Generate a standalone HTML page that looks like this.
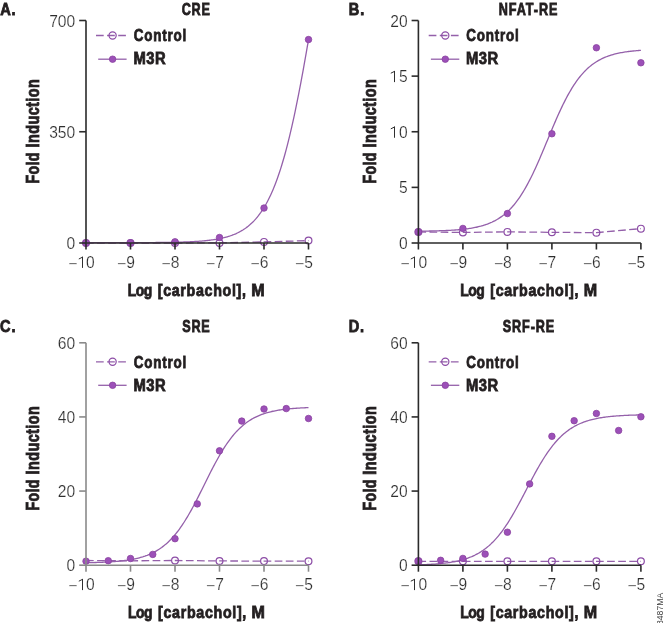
<!DOCTYPE html>
<html><head><meta charset="utf-8"><style>
html,body{margin:0;padding:0;background:#fff;}
svg{display:block;will-change:transform;}
</style></head><body>
<svg width="665" height="623" viewBox="0 0 665 623">
<rect width="665" height="623" fill="#fff"/>
<text transform="translate(0.50 15.00) scale(0.8800 1)" x="-0.41" y="0" font-family="Liberation Sans" font-weight="bold" font-size="16.6" letter-spacing="0.865" fill="#231f20" stroke="#231f20" stroke-width="0.85">A.</text>
<text transform="translate(182.30 15.00) scale(0.7600 1)" x="-0.68" y="0" font-family="Liberation Sans" font-weight="bold" font-size="16.6" letter-spacing="0.904" fill="#231f20" stroke="#231f20" stroke-width="0.85">CRE</text>
<path d="M86.00 242.68 L87.11 242.68 L88.23 242.68 L89.34 242.68 L90.45 242.68 L91.56 242.68 L92.68 242.68 L93.79 242.68 L94.90 242.67 L96.01 242.67 L97.12 242.67 L98.24 242.67 L99.35 242.67 L100.46 242.67 L101.57 242.67 L102.69 242.67 L103.80 242.67 L104.91 242.67 L106.02 242.67 L107.14 242.67 L108.25 242.67 L109.36 242.67 L110.48 242.67 L111.59 242.66 L112.70 242.66 L113.81 242.66 L114.93 242.66 L116.04 242.66 L117.15 242.66 L118.26 242.66 L119.38 242.66 L120.49 242.65 L121.60 242.65 L122.71 242.65 L123.82 242.65 L124.94 242.65 L126.05 242.65 L127.16 242.64 L128.27 242.64 L129.39 242.64 L130.50 242.64 L131.61 242.63 L132.73 242.63 L133.84 242.63 L134.95 242.63 L136.06 242.62 L137.18 242.62 L138.29 242.62 L139.40 242.61 L140.51 242.61 L141.62 242.60 L142.74 242.60 L143.85 242.59 L144.96 242.59 L146.07 242.58 L147.19 242.58 L148.30 242.57 L149.41 242.57 L150.52 242.56 L151.64 242.55 L152.75 242.54 L153.86 242.54 L154.98 242.53 L156.09 242.52 L157.20 242.51 L158.31 242.50 L159.43 242.49 L160.54 242.48 L161.65 242.47 L162.76 242.45 L163.88 242.44 L164.99 242.43 L166.10 242.41 L167.21 242.39 L168.32 242.38 L169.44 242.36 L170.55 242.34 L171.66 242.32 L172.77 242.30 L173.89 242.28 L175.00 242.26 L176.11 242.23 L177.22 242.21 L178.34 242.18 L179.45 242.15 L180.56 242.12 L181.68 242.09 L182.79 242.05 L183.90 242.02 L185.01 241.98 L186.12 241.94 L187.24 241.89 L188.35 241.85 L189.46 241.80 L190.57 241.75 L191.69 241.70 L192.80 241.64 L193.91 241.58 L195.03 241.52 L196.14 241.45 L197.25 241.38 L198.36 241.30 L199.47 241.22 L200.59 241.14 L201.70 241.05 L202.81 240.96 L203.93 240.86 L205.04 240.75 L206.15 240.64 L207.26 240.52 L208.38 240.40 L209.49 240.27 L210.60 240.13 L211.71 239.98 L212.82 239.83 L213.94 239.67 L215.05 239.49 L216.16 239.31 L217.28 239.12 L218.39 238.91 L219.50 238.70 L220.61 238.47 L221.72 238.23 L222.84 237.97 L223.95 237.71 L225.06 237.42 L226.18 237.12 L227.29 236.80 L228.40 236.47 L229.51 236.12 L230.62 235.74 L231.74 235.35 L232.85 234.93 L233.96 234.49 L235.07 234.03 L236.19 233.54 L237.30 233.02 L238.41 232.47 L239.53 231.90 L240.64 231.29 L241.75 230.65 L242.86 229.98 L243.97 229.26 L245.09 228.51 L246.20 227.72 L247.31 226.89 L248.43 226.01 L249.54 225.08 L250.65 224.10 L251.76 223.08 L252.88 221.99 L253.99 220.86 L255.10 219.66 L256.21 218.40 L257.32 217.07 L258.44 215.68 L259.55 214.21 L260.66 212.68 L261.77 211.06 L262.89 209.37 L264.00 207.59 L265.11 205.72 L266.23 203.76 L267.34 201.71 L268.45 199.57 L269.56 197.32 L270.68 194.97 L271.79 192.51 L272.90 189.94 L274.01 187.25 L275.12 184.45 L276.24 181.53 L277.35 178.48 L278.46 175.31 L279.57 172.01 L280.69 168.58 L281.80 165.01 L282.91 161.30 L284.02 157.46 L285.14 153.48 L286.25 149.36 L287.36 145.09 L288.48 140.69 L289.59 136.14 L290.70 131.45 L291.81 126.62 L292.93 121.66 L294.04 116.55 L295.15 111.32 L296.26 105.95 L297.38 100.45 L298.49 94.84 L299.60 89.10 L300.71 83.26 L301.82 77.31 L302.94 71.26 L304.05 65.12 L305.16 58.89 L306.27 52.59 L307.39 46.23 L308.50 39.80" fill="none" stroke="#9460aa" stroke-width="1.3"/>
<path d="M86.00 243.00 L130.50 243.00 L175.00 243.00 L219.50 242.94 L264.00 241.89 L308.50 240.62" fill="none" stroke="#9460aa" stroke-width="1.3" stroke-dasharray="7.7 3.4"/>
<circle cx="86.00" cy="243.00" r="3.4" fill="none" stroke="#8c4ca6" stroke-width="1.2"/>
<circle cx="130.50" cy="243.00" r="3.4" fill="none" stroke="#8c4ca6" stroke-width="1.2"/>
<circle cx="175.00" cy="243.00" r="3.4" fill="none" stroke="#8c4ca6" stroke-width="1.2"/>
<circle cx="219.50" cy="242.94" r="3.4" fill="none" stroke="#8c4ca6" stroke-width="1.2"/>
<circle cx="264.00" cy="241.89" r="3.4" fill="none" stroke="#8c4ca6" stroke-width="1.2"/>
<circle cx="308.50" cy="240.62" r="3.4" fill="none" stroke="#8c4ca6" stroke-width="1.2"/>
<circle cx="86.00" cy="242.90" r="3.25" fill="#9c50b8" stroke="#8a429f" stroke-width="0.8"/>
<circle cx="130.50" cy="242.84" r="3.25" fill="#9c50b8" stroke="#8a429f" stroke-width="0.8"/>
<circle cx="175.00" cy="241.79" r="3.25" fill="#9c50b8" stroke="#8a429f" stroke-width="0.8"/>
<circle cx="219.50" cy="237.50" r="3.25" fill="#9c50b8" stroke="#8a429f" stroke-width="0.8"/>
<circle cx="264.00" cy="208.04" r="3.25" fill="#9c50b8" stroke="#8a429f" stroke-width="0.8"/>
<circle cx="308.50" cy="39.57" r="3.25" fill="#9c50b8" stroke="#8a429f" stroke-width="0.8"/>
<path d="M86.00 20.50V243.00H308.50" fill="none" stroke="#2b2b2b" stroke-width="1.6"/>
<line x1="79.20" y1="243.00" x2="86.00" y2="243.00" stroke="#2b2b2b" stroke-width="1.6"/>
<text x="66.52" y="249.00" font-family="Liberation Sans" font-size="15.6" fill="#2e2e2e" stroke="#fff" stroke-width="0.2">0</text>
<line x1="79.20" y1="131.75" x2="86.00" y2="131.75" stroke="#2b2b2b" stroke-width="1.6"/>
<text x="49.17" y="137.75" font-family="Liberation Sans" font-size="15.6" fill="#2e2e2e" stroke="#fff" stroke-width="0.2">3</text><text x="57.85" y="137.75" font-family="Liberation Sans" font-size="15.6" fill="#2e2e2e" stroke="#fff" stroke-width="0.2">5</text><text x="66.52" y="137.75" font-family="Liberation Sans" font-size="15.6" fill="#2e2e2e" stroke="#fff" stroke-width="0.2">0</text>
<line x1="79.20" y1="20.50" x2="86.00" y2="20.50" stroke="#2b2b2b" stroke-width="1.6"/>
<text x="49.17" y="26.50" font-family="Liberation Sans" font-size="15.6" fill="#2e2e2e" stroke="#fff" stroke-width="0.2">7</text><text x="57.85" y="26.50" font-family="Liberation Sans" font-size="15.6" fill="#2e2e2e" stroke="#fff" stroke-width="0.2">0</text><text x="66.52" y="26.50" font-family="Liberation Sans" font-size="15.6" fill="#2e2e2e" stroke="#fff" stroke-width="0.2">0</text>
<line x1="86.00" y1="243.00" x2="86.00" y2="249.50" stroke="#2b2b2b" stroke-width="1.6"/>
<path d="M82.50 267.90V256.80M78.80 259.00L82.80 257.00" stroke="#2e2e2e" stroke-width="1.0" fill="none"/><text x="86.00" y="267.90" font-family="Liberation Sans" font-size="15.6" fill="#2e2e2e" stroke="#fff" stroke-width="0.2">0</text>
<text x="77.32" y="268.70" font-family="Liberation Sans" font-size="15.6" fill="#2e2e2e" stroke="#fff" stroke-width="0.2" text-anchor="end">&#8722;</text>
<line x1="130.50" y1="243.00" x2="130.50" y2="249.50" stroke="#2b2b2b" stroke-width="1.6"/>
<text x="126.16" y="267.90" font-family="Liberation Sans" font-size="15.6" fill="#2e2e2e" stroke="#fff" stroke-width="0.2">9</text>
<text x="126.16" y="268.70" font-family="Liberation Sans" font-size="15.6" fill="#2e2e2e" stroke="#fff" stroke-width="0.2" text-anchor="end">&#8722;</text>
<line x1="175.00" y1="243.00" x2="175.00" y2="249.50" stroke="#2b2b2b" stroke-width="1.6"/>
<text x="170.66" y="267.90" font-family="Liberation Sans" font-size="15.6" fill="#2e2e2e" stroke="#fff" stroke-width="0.2">8</text>
<text x="170.66" y="268.70" font-family="Liberation Sans" font-size="15.6" fill="#2e2e2e" stroke="#fff" stroke-width="0.2" text-anchor="end">&#8722;</text>
<line x1="219.50" y1="243.00" x2="219.50" y2="249.50" stroke="#2b2b2b" stroke-width="1.6"/>
<text x="215.16" y="267.90" font-family="Liberation Sans" font-size="15.6" fill="#2e2e2e" stroke="#fff" stroke-width="0.2">7</text>
<text x="215.16" y="268.70" font-family="Liberation Sans" font-size="15.6" fill="#2e2e2e" stroke="#fff" stroke-width="0.2" text-anchor="end">&#8722;</text>
<line x1="264.00" y1="243.00" x2="264.00" y2="249.50" stroke="#2b2b2b" stroke-width="1.6"/>
<text x="259.66" y="267.90" font-family="Liberation Sans" font-size="15.6" fill="#2e2e2e" stroke="#fff" stroke-width="0.2">6</text>
<text x="259.66" y="268.70" font-family="Liberation Sans" font-size="15.6" fill="#2e2e2e" stroke="#fff" stroke-width="0.2" text-anchor="end">&#8722;</text>
<line x1="308.50" y1="243.00" x2="308.50" y2="249.50" stroke="#2b2b2b" stroke-width="1.6"/>
<text x="304.16" y="267.90" font-family="Liberation Sans" font-size="15.6" fill="#2e2e2e" stroke="#fff" stroke-width="0.2">5</text>
<text x="304.16" y="268.70" font-family="Liberation Sans" font-size="15.6" fill="#2e2e2e" stroke="#fff" stroke-width="0.2" text-anchor="end">&#8722;</text>
<line x1="96.00" y1="35.50" x2="126.00" y2="35.50" stroke="#9460aa" stroke-width="1.3" stroke-dasharray="7.7 3.4"/>
<circle cx="112.60" cy="35.50" r="3.6" fill="none" stroke="#8c4ca6" stroke-width="1.2"/>
<line x1="98.20" y1="59.20" x2="126.60" y2="59.20" stroke="#9460aa" stroke-width="1.3"/>
<circle cx="112.60" cy="59.20" r="3.25" fill="#9c50b8" stroke="#8a429f" stroke-width="0.8"/>
<text transform="translate(134.40 40.75) scale(0.7800 1)" x="-0.71" y="0" font-family="Liberation Sans" font-weight="bold" font-size="17.2" letter-spacing="1.028" fill="#231f20" stroke="#231f20" stroke-width="0.85">Control</text>
<text transform="translate(134.40 64.20) scale(0.8600 1)" x="-1.15" y="0" font-family="Liberation Sans" font-weight="bold" font-size="17.2" letter-spacing="0.617" fill="#231f20" stroke="#231f20" stroke-width="0.85">M3R</text>
<text transform="translate(128.73 295.80) scale(0.8000 1)" x="-1.16" y="0" font-family="Liberation Sans" font-weight="bold" font-size="17.4" letter-spacing="-0.623" fill="#231f20" stroke="#231f20" stroke-width="0.85">Log</text>
<text transform="translate(158.53 295.80) scale(0.8200 1)" x="-0.98" y="0" font-family="Liberation Sans" font-weight="bold" font-size="17.4" letter-spacing="0.824" fill="#231f20" stroke="#231f20" stroke-width="0.85">[carbachol],</text>
<text transform="translate(252.23 295.80) scale(0.9247 1)" x="-1.16" y="0" font-family="Liberation Sans" font-weight="bold" font-size="17.4" letter-spacing="0.000" fill="#231f20" stroke="#231f20" stroke-width="0.85">M</text>
<text transform="translate(39.00 182.47) rotate(-90) scale(0.8000 1)" x="-1.18" y="0" font-family="Liberation Sans" font-weight="bold" font-size="17.6" letter-spacing="0.461" fill="#231f20" stroke="#231f20" stroke-width="0.85">Fold</text>
<text transform="translate(39.00 146.57) rotate(-90) scale(0.8200 1)" x="-1.18" y="0" font-family="Liberation Sans" font-weight="bold" font-size="17.6" letter-spacing="0.531" fill="#231f20" stroke="#231f20" stroke-width="0.85">Induction</text>
<text transform="translate(349.60 15.00) scale(0.8800 1)" x="-1.11" y="0" font-family="Liberation Sans" font-weight="bold" font-size="16.6" letter-spacing="1.335" fill="#231f20" stroke="#231f20" stroke-width="0.85">B.</text>
<text transform="translate(499.60 15.00) scale(0.7600 1)" x="-1.11" y="0" font-family="Liberation Sans" font-weight="bold" font-size="16.6" letter-spacing="1.223" fill="#231f20" stroke="#231f20" stroke-width="0.85">NFAT-RE</text>
<path d="M418.40 231.17 L419.51 231.15 L420.62 231.14 L421.74 231.13 L422.85 231.11 L423.96 231.10 L425.07 231.08 L426.19 231.07 L427.30 231.05 L428.41 231.03 L429.52 231.01 L430.64 230.99 L431.75 230.96 L432.86 230.94 L433.97 230.91 L435.09 230.89 L436.20 230.86 L437.31 230.83 L438.42 230.79 L439.54 230.76 L440.65 230.72 L441.76 230.69 L442.88 230.64 L443.99 230.60 L445.10 230.56 L446.21 230.51 L447.32 230.45 L448.44 230.40 L449.55 230.34 L450.66 230.28 L451.77 230.21 L452.89 230.15 L454.00 230.07 L455.11 229.99 L456.22 229.91 L457.34 229.83 L458.45 229.73 L459.56 229.63 L460.67 229.53 L461.79 229.42 L462.90 229.30 L464.01 229.18 L465.12 229.05 L466.24 228.91 L467.35 228.77 L468.46 228.61 L469.57 228.45 L470.69 228.27 L471.80 228.09 L472.91 227.89 L474.02 227.69 L475.14 227.47 L476.25 227.24 L477.36 227.00 L478.47 226.74 L479.59 226.46 L480.70 226.18 L481.81 225.87 L482.92 225.55 L484.04 225.21 L485.15 224.85 L486.26 224.47 L487.38 224.07 L488.49 223.64 L489.60 223.20 L490.71 222.72 L491.82 222.23 L492.94 221.70 L494.05 221.15 L495.16 220.57 L496.27 219.95 L497.39 219.31 L498.50 218.63 L499.61 217.91 L500.72 217.16 L501.84 216.37 L502.95 215.54 L504.06 214.67 L505.17 213.75 L506.29 212.79 L507.40 211.79 L508.51 210.73 L509.62 209.63 L510.74 208.48 L511.85 207.28 L512.96 206.02 L514.08 204.71 L515.19 203.34 L516.30 201.91 L517.41 200.43 L518.52 198.89 L519.64 197.29 L520.75 195.63 L521.86 193.91 L522.97 192.12 L524.09 190.28 L525.20 188.38 L526.31 186.41 L527.42 184.39 L528.54 182.31 L529.65 180.17 L530.76 177.97 L531.88 175.73 L532.99 173.42 L534.10 171.07 L535.21 168.67 L536.33 166.23 L537.44 163.75 L538.55 161.22 L539.66 158.67 L540.77 156.08 L541.89 153.47 L543.00 150.83 L544.11 148.17 L545.22 145.51 L546.34 142.83 L547.45 140.15 L548.56 137.46 L549.67 134.79 L550.79 132.12 L551.90 129.46 L553.01 126.83 L554.12 124.22 L555.24 121.63 L556.35 119.07 L557.46 116.55 L558.58 114.07 L559.69 111.63 L560.80 109.23 L561.91 106.89 L563.02 104.59 L564.14 102.34 L565.25 100.15 L566.36 98.01 L567.47 95.93 L568.59 93.91 L569.70 91.95 L570.81 90.05 L571.92 88.21 L573.04 86.43 L574.15 84.71 L575.26 83.05 L576.38 81.46 L577.49 79.92 L578.60 78.44 L579.71 77.02 L580.83 75.65 L581.94 74.34 L583.05 73.09 L584.16 71.88 L585.27 70.73 L586.39 69.64 L587.50 68.59 L588.61 67.58 L589.72 66.63 L590.84 65.71 L591.95 64.84 L593.06 64.01 L594.17 63.23 L595.29 62.48 L596.40 61.76 L597.51 61.08 L598.62 60.44 L599.74 59.83 L600.85 59.25 L601.96 58.69 L603.08 58.17 L604.19 57.67 L605.30 57.20 L606.41 56.76 L607.52 56.34 L608.64 55.94 L609.75 55.56 L610.86 55.20 L611.97 54.86 L613.09 54.54 L614.20 54.23 L615.31 53.94 L616.42 53.67 L617.54 53.41 L618.65 53.17 L619.76 52.94 L620.88 52.72 L621.99 52.52 L623.10 52.32 L624.21 52.14 L625.33 51.97 L626.44 51.80 L627.55 51.65 L628.66 51.50 L629.77 51.36 L630.89 51.23 L632.00 51.11 L633.11 50.99 L634.22 50.88 L635.34 50.78 L636.45 50.68 L637.56 50.59 L638.67 50.50 L639.79 50.42 L640.90 50.35" fill="none" stroke="#9460aa" stroke-width="1.3"/>
<path d="M418.40 231.88 L462.90 232.43 L507.40 231.88 L551.90 232.32 L596.40 232.65 L640.90 228.65" fill="none" stroke="#9460aa" stroke-width="1.3" stroke-dasharray="7.7 3.4"/>
<circle cx="418.40" cy="231.88" r="3.4" fill="none" stroke="#8c4ca6" stroke-width="1.2"/>
<circle cx="462.90" cy="232.43" r="3.4" fill="none" stroke="#8c4ca6" stroke-width="1.2"/>
<circle cx="507.40" cy="231.88" r="3.4" fill="none" stroke="#8c4ca6" stroke-width="1.2"/>
<circle cx="551.90" cy="232.32" r="3.4" fill="none" stroke="#8c4ca6" stroke-width="1.2"/>
<circle cx="596.40" cy="232.65" r="3.4" fill="none" stroke="#8c4ca6" stroke-width="1.2"/>
<circle cx="640.90" cy="228.65" r="3.4" fill="none" stroke="#8c4ca6" stroke-width="1.2"/>
<circle cx="418.40" cy="231.88" r="3.25" fill="#9c50b8" stroke="#8a429f" stroke-width="0.8"/>
<circle cx="462.90" cy="228.43" r="3.25" fill="#9c50b8" stroke="#8a429f" stroke-width="0.8"/>
<circle cx="507.40" cy="213.52" r="3.25" fill="#9c50b8" stroke="#8a429f" stroke-width="0.8"/>
<circle cx="551.90" cy="133.75" r="3.25" fill="#9c50b8" stroke="#8a429f" stroke-width="0.8"/>
<circle cx="596.40" cy="47.76" r="3.25" fill="#9c50b8" stroke="#8a429f" stroke-width="0.8"/>
<circle cx="640.90" cy="62.78" r="3.25" fill="#9c50b8" stroke="#8a429f" stroke-width="0.8"/>
<path d="M418.40 20.50V243.00H640.90" fill="none" stroke="#2b2b2b" stroke-width="1.6"/>
<line x1="411.60" y1="243.00" x2="418.40" y2="243.00" stroke="#2b2b2b" stroke-width="1.6"/>
<text x="398.92" y="249.00" font-family="Liberation Sans" font-size="15.6" fill="#2e2e2e" stroke="#fff" stroke-width="0.2">0</text>
<line x1="411.60" y1="187.38" x2="418.40" y2="187.38" stroke="#2b2b2b" stroke-width="1.6"/>
<text x="398.92" y="193.38" font-family="Liberation Sans" font-size="15.6" fill="#2e2e2e" stroke="#fff" stroke-width="0.2">5</text>
<line x1="411.60" y1="131.75" x2="418.40" y2="131.75" stroke="#2b2b2b" stroke-width="1.6"/>
<path d="M394.50 137.75V126.65M390.80 128.85L394.80 126.85" stroke="#2e2e2e" stroke-width="1.0" fill="none"/><text x="398.92" y="137.75" font-family="Liberation Sans" font-size="15.6" fill="#2e2e2e" stroke="#fff" stroke-width="0.2">0</text>
<line x1="411.60" y1="76.12" x2="418.40" y2="76.12" stroke="#2b2b2b" stroke-width="1.6"/>
<path d="M394.50 82.12V71.03M390.80 73.23L394.80 71.23" stroke="#2e2e2e" stroke-width="1.0" fill="none"/><text x="398.92" y="82.12" font-family="Liberation Sans" font-size="15.6" fill="#2e2e2e" stroke="#fff" stroke-width="0.2">5</text>
<line x1="411.60" y1="20.50" x2="418.40" y2="20.50" stroke="#2b2b2b" stroke-width="1.6"/>
<text x="390.25" y="26.50" font-family="Liberation Sans" font-size="15.6" fill="#2e2e2e" stroke="#fff" stroke-width="0.2">2</text><text x="398.92" y="26.50" font-family="Liberation Sans" font-size="15.6" fill="#2e2e2e" stroke="#fff" stroke-width="0.2">0</text>
<line x1="418.40" y1="243.00" x2="418.40" y2="249.50" stroke="#2b2b2b" stroke-width="1.6"/>
<path d="M414.50 267.90V256.80M410.80 259.00L414.80 257.00" stroke="#2e2e2e" stroke-width="1.0" fill="none"/><text x="418.40" y="267.90" font-family="Liberation Sans" font-size="15.6" fill="#2e2e2e" stroke="#fff" stroke-width="0.2">0</text>
<text x="409.72" y="268.70" font-family="Liberation Sans" font-size="15.6" fill="#2e2e2e" stroke="#fff" stroke-width="0.2" text-anchor="end">&#8722;</text>
<line x1="462.90" y1="243.00" x2="462.90" y2="249.50" stroke="#2b2b2b" stroke-width="1.6"/>
<text x="458.56" y="267.90" font-family="Liberation Sans" font-size="15.6" fill="#2e2e2e" stroke="#fff" stroke-width="0.2">9</text>
<text x="458.56" y="268.70" font-family="Liberation Sans" font-size="15.6" fill="#2e2e2e" stroke="#fff" stroke-width="0.2" text-anchor="end">&#8722;</text>
<line x1="507.40" y1="243.00" x2="507.40" y2="249.50" stroke="#2b2b2b" stroke-width="1.6"/>
<text x="503.06" y="267.90" font-family="Liberation Sans" font-size="15.6" fill="#2e2e2e" stroke="#fff" stroke-width="0.2">8</text>
<text x="503.06" y="268.70" font-family="Liberation Sans" font-size="15.6" fill="#2e2e2e" stroke="#fff" stroke-width="0.2" text-anchor="end">&#8722;</text>
<line x1="551.90" y1="243.00" x2="551.90" y2="249.50" stroke="#2b2b2b" stroke-width="1.6"/>
<text x="547.56" y="267.90" font-family="Liberation Sans" font-size="15.6" fill="#2e2e2e" stroke="#fff" stroke-width="0.2">7</text>
<text x="547.56" y="268.70" font-family="Liberation Sans" font-size="15.6" fill="#2e2e2e" stroke="#fff" stroke-width="0.2" text-anchor="end">&#8722;</text>
<line x1="596.40" y1="243.00" x2="596.40" y2="249.50" stroke="#2b2b2b" stroke-width="1.6"/>
<text x="592.06" y="267.90" font-family="Liberation Sans" font-size="15.6" fill="#2e2e2e" stroke="#fff" stroke-width="0.2">6</text>
<text x="592.06" y="268.70" font-family="Liberation Sans" font-size="15.6" fill="#2e2e2e" stroke="#fff" stroke-width="0.2" text-anchor="end">&#8722;</text>
<line x1="640.90" y1="243.00" x2="640.90" y2="249.50" stroke="#2b2b2b" stroke-width="1.6"/>
<text x="636.56" y="267.90" font-family="Liberation Sans" font-size="15.6" fill="#2e2e2e" stroke="#fff" stroke-width="0.2">5</text>
<text x="636.56" y="268.70" font-family="Liberation Sans" font-size="15.6" fill="#2e2e2e" stroke="#fff" stroke-width="0.2" text-anchor="end">&#8722;</text>
<line x1="428.70" y1="35.50" x2="458.70" y2="35.50" stroke="#9460aa" stroke-width="1.3" stroke-dasharray="7.7 3.4"/>
<circle cx="445.30" cy="35.50" r="3.6" fill="none" stroke="#8c4ca6" stroke-width="1.2"/>
<line x1="430.90" y1="59.20" x2="459.30" y2="59.20" stroke="#9460aa" stroke-width="1.3"/>
<circle cx="445.30" cy="59.20" r="3.25" fill="#9c50b8" stroke="#8a429f" stroke-width="0.8"/>
<text transform="translate(466.90 40.75) scale(0.7800 1)" x="-0.71" y="0" font-family="Liberation Sans" font-weight="bold" font-size="17.2" letter-spacing="1.028" fill="#231f20" stroke="#231f20" stroke-width="0.85">Control</text>
<text transform="translate(466.90 64.20) scale(0.8600 1)" x="-1.15" y="0" font-family="Liberation Sans" font-weight="bold" font-size="17.2" letter-spacing="0.617" fill="#231f20" stroke="#231f20" stroke-width="0.85">M3R</text>
<text transform="translate(461.23 295.80) scale(0.8000 1)" x="-1.16" y="0" font-family="Liberation Sans" font-weight="bold" font-size="17.4" letter-spacing="-0.623" fill="#231f20" stroke="#231f20" stroke-width="0.85">Log</text>
<text transform="translate(491.03 295.80) scale(0.8200 1)" x="-0.98" y="0" font-family="Liberation Sans" font-weight="bold" font-size="17.4" letter-spacing="0.824" fill="#231f20" stroke="#231f20" stroke-width="0.85">[carbachol],</text>
<text transform="translate(584.73 295.80) scale(0.9247 1)" x="-1.16" y="0" font-family="Liberation Sans" font-weight="bold" font-size="17.4" letter-spacing="0.000" fill="#231f20" stroke="#231f20" stroke-width="0.85">M</text>
<text transform="translate(375.60 182.47) rotate(-90) scale(0.8000 1)" x="-1.18" y="0" font-family="Liberation Sans" font-weight="bold" font-size="17.6" letter-spacing="0.461" fill="#231f20" stroke="#231f20" stroke-width="0.85">Fold</text>
<text transform="translate(375.60 146.57) rotate(-90) scale(0.8200 1)" x="-1.18" y="0" font-family="Liberation Sans" font-weight="bold" font-size="17.6" letter-spacing="0.531" fill="#231f20" stroke="#231f20" stroke-width="0.85">Induction</text>
<text transform="translate(0.50 332.20) scale(0.8800 1)" x="-0.68" y="0" font-family="Liberation Sans" font-weight="bold" font-size="16.6" letter-spacing="1.133" fill="#231f20" stroke="#231f20" stroke-width="0.85">C.</text>
<text transform="translate(182.60 332.20) scale(0.7600 1)" x="-0.48" y="0" font-family="Liberation Sans" font-weight="bold" font-size="16.6" letter-spacing="1.063" fill="#231f20" stroke="#231f20" stroke-width="0.85">SRE</text>
<path d="M86.00 562.71 L87.11 562.69 L88.23 562.67 L89.34 562.64 L90.45 562.62 L91.56 562.59 L92.68 562.57 L93.79 562.54 L94.90 562.51 L96.01 562.48 L97.12 562.44 L98.24 562.41 L99.35 562.37 L100.46 562.33 L101.57 562.28 L102.69 562.24 L103.80 562.19 L104.91 562.14 L106.02 562.09 L107.14 562.03 L108.25 561.97 L109.36 561.90 L110.48 561.84 L111.59 561.77 L112.70 561.69 L113.81 561.61 L114.93 561.53 L116.04 561.44 L117.15 561.34 L118.26 561.24 L119.38 561.13 L120.49 561.02 L121.60 560.90 L122.71 560.78 L123.82 560.65 L124.94 560.51 L126.05 560.36 L127.16 560.20 L128.27 560.03 L129.39 559.86 L130.50 559.67 L131.61 559.48 L132.73 559.27 L133.84 559.05 L134.95 558.82 L136.06 558.58 L137.18 558.32 L138.29 558.05 L139.40 557.76 L140.51 557.46 L141.62 557.14 L142.74 556.81 L143.85 556.45 L144.96 556.08 L146.07 555.68 L147.19 555.27 L148.30 554.83 L149.41 554.37 L150.52 553.89 L151.64 553.38 L152.75 552.84 L153.86 552.28 L154.98 551.69 L156.09 551.06 L157.20 550.41 L158.31 549.73 L159.43 549.01 L160.54 548.25 L161.65 547.47 L162.76 546.64 L163.88 545.77 L164.99 544.87 L166.10 543.92 L167.21 542.94 L168.32 541.91 L169.44 540.83 L170.55 539.71 L171.66 538.55 L172.77 537.33 L173.89 536.07 L175.00 534.76 L176.11 533.40 L177.22 532.00 L178.34 530.54 L179.45 529.03 L180.56 527.48 L181.68 525.87 L182.79 524.22 L183.90 522.51 L185.01 520.76 L186.12 518.96 L187.24 517.12 L188.35 515.23 L189.46 513.30 L190.57 511.33 L191.69 509.32 L192.80 507.27 L193.91 505.19 L195.03 503.08 L196.14 500.94 L197.25 498.77 L198.36 496.59 L199.47 494.38 L200.59 492.16 L201.70 489.93 L202.81 487.68 L203.93 485.44 L205.04 483.19 L206.15 480.95 L207.26 478.71 L208.38 476.49 L209.49 474.27 L210.60 472.08 L211.71 469.90 L212.82 467.75 L213.94 465.63 L215.05 463.54 L216.16 461.48 L217.28 459.45 L218.39 457.46 L219.50 455.52 L220.61 453.61 L221.72 451.75 L222.84 449.93 L223.95 448.16 L225.06 446.44 L226.18 444.76 L227.29 443.14 L228.40 441.56 L229.51 440.04 L230.62 438.56 L231.74 437.13 L232.85 435.75 L233.96 434.43 L235.07 433.15 L236.19 431.91 L237.30 430.73 L238.41 429.59 L239.53 428.50 L240.64 427.45 L241.75 426.45 L242.86 425.48 L243.97 424.56 L245.09 423.68 L246.20 422.84 L247.31 422.04 L248.43 421.27 L249.54 420.54 L250.65 419.84 L251.76 419.17 L252.88 418.54 L253.99 417.93 L255.10 417.36 L256.21 416.81 L257.32 416.29 L258.44 415.80 L259.55 415.33 L260.66 414.88 L261.77 414.46 L262.89 414.06 L264.00 413.68 L265.11 413.31 L266.23 412.97 L267.34 412.64 L268.45 412.33 L269.56 412.04 L270.68 411.76 L271.79 411.50 L272.90 411.25 L274.01 411.02 L275.12 410.79 L276.24 410.58 L277.35 410.38 L278.46 410.19 L279.57 410.01 L280.69 409.84 L281.80 409.68 L282.91 409.53 L284.02 409.39 L285.14 409.25 L286.25 409.12 L287.36 409.00 L288.48 408.89 L289.59 408.78 L290.70 408.68 L291.81 408.58 L292.93 408.49 L294.04 408.40 L295.15 408.32 L296.26 408.24 L297.38 408.17 L298.49 408.10 L299.60 408.04 L300.71 407.97 L301.82 407.92 L302.94 407.86 L304.05 407.81 L305.16 407.76 L306.27 407.71 L307.39 407.67 L308.50 407.63" fill="none" stroke="#9460aa" stroke-width="1.3"/>
<path d="M86.00 560.49 L130.50 560.83 L175.00 560.49 L219.50 560.94 L264.00 561.12 L308.50 561.20" fill="none" stroke="#9460aa" stroke-width="1.3" stroke-dasharray="7.7 3.4"/>
<circle cx="175.00" cy="560.49" r="3.4" fill="none" stroke="#8c4ca6" stroke-width="1.2"/>
<circle cx="219.50" cy="560.94" r="3.4" fill="none" stroke="#8c4ca6" stroke-width="1.2"/>
<circle cx="264.00" cy="561.12" r="3.4" fill="none" stroke="#8c4ca6" stroke-width="1.2"/>
<circle cx="308.50" cy="561.20" r="3.4" fill="none" stroke="#8c4ca6" stroke-width="1.2"/>
<circle cx="86.00" cy="561.20" r="3.25" fill="#9c50b8" stroke="#8a429f" stroke-width="0.8"/>
<circle cx="108.25" cy="560.71" r="3.25" fill="#9c50b8" stroke="#8a429f" stroke-width="0.8"/>
<circle cx="130.50" cy="558.49" r="3.25" fill="#9c50b8" stroke="#8a429f" stroke-width="0.8"/>
<circle cx="152.75" cy="554.41" r="3.25" fill="#9c50b8" stroke="#8a429f" stroke-width="0.8"/>
<circle cx="175.00" cy="538.70" r="3.25" fill="#9c50b8" stroke="#8a429f" stroke-width="0.8"/>
<circle cx="197.25" cy="503.89" r="3.25" fill="#9c50b8" stroke="#8a429f" stroke-width="0.8"/>
<circle cx="219.50" cy="450.81" r="3.25" fill="#9c50b8" stroke="#8a429f" stroke-width="0.8"/>
<circle cx="241.75" cy="421.08" r="3.25" fill="#9c50b8" stroke="#8a429f" stroke-width="0.8"/>
<circle cx="264.00" cy="409.00" r="3.25" fill="#9c50b8" stroke="#8a429f" stroke-width="0.8"/>
<circle cx="286.25" cy="408.59" r="3.25" fill="#9c50b8" stroke="#8a429f" stroke-width="0.8"/>
<circle cx="308.50" cy="418.49" r="3.25" fill="#9c50b8" stroke="#8a429f" stroke-width="0.8"/>
<path d="M86.00 342.80V565.20H308.50" fill="none" stroke="#8a8a8a" stroke-width="1.6"/>
<line x1="79.20" y1="565.20" x2="86.00" y2="565.20" stroke="#8a8a8a" stroke-width="1.6"/>
<text x="66.52" y="571.20" font-family="Liberation Sans" font-size="15.6" fill="#2e2e2e" stroke="#fff" stroke-width="0.2">0</text>
<line x1="79.20" y1="491.07" x2="86.00" y2="491.07" stroke="#8a8a8a" stroke-width="1.6"/>
<text x="57.85" y="497.07" font-family="Liberation Sans" font-size="15.6" fill="#2e2e2e" stroke="#fff" stroke-width="0.2">2</text><text x="66.52" y="497.07" font-family="Liberation Sans" font-size="15.6" fill="#2e2e2e" stroke="#fff" stroke-width="0.2">0</text>
<line x1="79.20" y1="416.93" x2="86.00" y2="416.93" stroke="#8a8a8a" stroke-width="1.6"/>
<text x="57.85" y="422.93" font-family="Liberation Sans" font-size="15.6" fill="#2e2e2e" stroke="#fff" stroke-width="0.2">4</text><text x="66.52" y="422.93" font-family="Liberation Sans" font-size="15.6" fill="#2e2e2e" stroke="#fff" stroke-width="0.2">0</text>
<line x1="79.20" y1="342.80" x2="86.00" y2="342.80" stroke="#8a8a8a" stroke-width="1.6"/>
<text x="57.85" y="348.80" font-family="Liberation Sans" font-size="15.6" fill="#2e2e2e" stroke="#fff" stroke-width="0.2">6</text><text x="66.52" y="348.80" font-family="Liberation Sans" font-size="15.6" fill="#2e2e2e" stroke="#fff" stroke-width="0.2">0</text>
<line x1="86.00" y1="565.20" x2="86.00" y2="571.70" stroke="#8a8a8a" stroke-width="1.6"/>
<path d="M82.50 590.10V579.00M78.80 581.20L82.80 579.20" stroke="#2e2e2e" stroke-width="1.0" fill="none"/><text x="86.00" y="590.10" font-family="Liberation Sans" font-size="15.6" fill="#2e2e2e" stroke="#fff" stroke-width="0.2">0</text>
<text x="77.32" y="590.90" font-family="Liberation Sans" font-size="15.6" fill="#2e2e2e" stroke="#fff" stroke-width="0.2" text-anchor="end">&#8722;</text>
<line x1="130.50" y1="565.20" x2="130.50" y2="571.70" stroke="#8a8a8a" stroke-width="1.6"/>
<text x="126.16" y="590.10" font-family="Liberation Sans" font-size="15.6" fill="#2e2e2e" stroke="#fff" stroke-width="0.2">9</text>
<text x="126.16" y="590.90" font-family="Liberation Sans" font-size="15.6" fill="#2e2e2e" stroke="#fff" stroke-width="0.2" text-anchor="end">&#8722;</text>
<line x1="175.00" y1="565.20" x2="175.00" y2="571.70" stroke="#8a8a8a" stroke-width="1.6"/>
<text x="170.66" y="590.10" font-family="Liberation Sans" font-size="15.6" fill="#2e2e2e" stroke="#fff" stroke-width="0.2">8</text>
<text x="170.66" y="590.90" font-family="Liberation Sans" font-size="15.6" fill="#2e2e2e" stroke="#fff" stroke-width="0.2" text-anchor="end">&#8722;</text>
<line x1="219.50" y1="565.20" x2="219.50" y2="571.70" stroke="#8a8a8a" stroke-width="1.6"/>
<text x="215.16" y="590.10" font-family="Liberation Sans" font-size="15.6" fill="#2e2e2e" stroke="#fff" stroke-width="0.2">7</text>
<text x="215.16" y="590.90" font-family="Liberation Sans" font-size="15.6" fill="#2e2e2e" stroke="#fff" stroke-width="0.2" text-anchor="end">&#8722;</text>
<line x1="264.00" y1="565.20" x2="264.00" y2="571.70" stroke="#8a8a8a" stroke-width="1.6"/>
<text x="259.66" y="590.10" font-family="Liberation Sans" font-size="15.6" fill="#2e2e2e" stroke="#fff" stroke-width="0.2">6</text>
<text x="259.66" y="590.90" font-family="Liberation Sans" font-size="15.6" fill="#2e2e2e" stroke="#fff" stroke-width="0.2" text-anchor="end">&#8722;</text>
<line x1="308.50" y1="565.20" x2="308.50" y2="571.70" stroke="#8a8a8a" stroke-width="1.6"/>
<text x="304.16" y="590.10" font-family="Liberation Sans" font-size="15.6" fill="#2e2e2e" stroke="#fff" stroke-width="0.2">5</text>
<text x="304.16" y="590.90" font-family="Liberation Sans" font-size="15.6" fill="#2e2e2e" stroke="#fff" stroke-width="0.2" text-anchor="end">&#8722;</text>
<line x1="96.00" y1="361.80" x2="126.00" y2="361.80" stroke="#9460aa" stroke-width="1.3" stroke-dasharray="7.7 3.4"/>
<circle cx="112.60" cy="361.80" r="3.6" fill="none" stroke="#8c4ca6" stroke-width="1.2"/>
<line x1="98.20" y1="385.30" x2="126.60" y2="385.30" stroke="#9460aa" stroke-width="1.3"/>
<circle cx="112.60" cy="385.30" r="3.25" fill="#9c50b8" stroke="#8a429f" stroke-width="0.8"/>
<text transform="translate(134.40 367.60) scale(0.7800 1)" x="-0.71" y="0" font-family="Liberation Sans" font-weight="bold" font-size="17.2" letter-spacing="1.028" fill="#231f20" stroke="#231f20" stroke-width="0.85">Control</text>
<text transform="translate(134.40 390.60) scale(0.8600 1)" x="-1.15" y="0" font-family="Liberation Sans" font-weight="bold" font-size="17.2" letter-spacing="0.617" fill="#231f20" stroke="#231f20" stroke-width="0.85">M3R</text>
<text transform="translate(129.03 617.80) scale(0.8000 1)" x="-1.16" y="0" font-family="Liberation Sans" font-weight="bold" font-size="17.4" letter-spacing="-0.623" fill="#231f20" stroke="#231f20" stroke-width="0.85">Log</text>
<text transform="translate(158.83 617.80) scale(0.8200 1)" x="-0.98" y="0" font-family="Liberation Sans" font-weight="bold" font-size="17.4" letter-spacing="0.824" fill="#231f20" stroke="#231f20" stroke-width="0.85">[carbachol],</text>
<text transform="translate(252.53 617.80) scale(0.9247 1)" x="-1.16" y="0" font-family="Liberation Sans" font-weight="bold" font-size="17.4" letter-spacing="0.000" fill="#231f20" stroke="#231f20" stroke-width="0.85">M</text>
<text transform="translate(39.00 509.47) rotate(-90) scale(0.8000 1)" x="-1.18" y="0" font-family="Liberation Sans" font-weight="bold" font-size="17.6" letter-spacing="0.461" fill="#231f20" stroke="#231f20" stroke-width="0.85">Fold</text>
<text transform="translate(39.00 473.57) rotate(-90) scale(0.8200 1)" x="-1.18" y="0" font-family="Liberation Sans" font-weight="bold" font-size="17.6" letter-spacing="0.531" fill="#231f20" stroke="#231f20" stroke-width="0.85">Induction</text>
<text transform="translate(349.60 332.20) scale(0.8800 1)" x="-1.11" y="0" font-family="Liberation Sans" font-weight="bold" font-size="16.6" letter-spacing="0.994" fill="#231f20" stroke="#231f20" stroke-width="0.85">D.</text>
<text transform="translate(503.00 332.20) scale(0.7600 1)" x="-0.48" y="0" font-family="Liberation Sans" font-weight="bold" font-size="16.6" letter-spacing="1.236" fill="#231f20" stroke="#231f20" stroke-width="0.85">SRF-RE</text>
<path d="M418.40 564.86 L419.51 564.83 L420.62 564.79 L421.74 564.75 L422.85 564.71 L423.96 564.66 L425.07 564.61 L426.19 564.56 L427.30 564.51 L428.41 564.45 L429.52 564.39 L430.64 564.33 L431.75 564.26 L432.86 564.19 L433.97 564.11 L435.09 564.03 L436.20 563.95 L437.31 563.86 L438.42 563.77 L439.54 563.67 L440.65 563.57 L441.76 563.45 L442.88 563.34 L443.99 563.21 L445.10 563.08 L446.21 562.95 L447.32 562.80 L448.44 562.65 L449.55 562.49 L450.66 562.31 L451.77 562.13 L452.89 561.94 L454.00 561.74 L455.11 561.53 L456.22 561.30 L457.34 561.07 L458.45 560.82 L459.56 560.56 L460.67 560.28 L461.79 559.99 L462.90 559.68 L464.01 559.35 L465.12 559.01 L466.24 558.65 L467.35 558.27 L468.46 557.87 L469.57 557.45 L470.69 557.01 L471.80 556.55 L472.91 556.06 L474.02 555.55 L475.14 555.01 L476.25 554.44 L477.36 553.85 L478.47 553.23 L479.59 552.57 L480.70 551.89 L481.81 551.17 L482.92 550.42 L484.04 549.64 L485.15 548.82 L486.26 547.96 L487.38 547.06 L488.49 546.13 L489.60 545.15 L490.71 544.14 L491.82 543.08 L492.94 541.98 L494.05 540.83 L495.16 539.64 L496.27 538.41 L497.39 537.12 L498.50 535.80 L499.61 534.42 L500.72 533.00 L501.84 531.54 L502.95 530.03 L504.06 528.47 L505.17 526.86 L506.29 525.21 L507.40 523.52 L508.51 521.79 L509.62 520.01 L510.74 518.19 L511.85 516.33 L512.96 514.44 L514.08 512.51 L515.19 510.54 L516.30 508.55 L517.41 506.53 L518.52 504.48 L519.64 502.42 L520.75 500.33 L521.86 498.22 L522.97 496.11 L524.09 493.98 L525.20 491.85 L526.31 489.71 L527.42 487.57 L528.54 485.44 L529.65 483.32 L530.76 481.20 L531.88 479.10 L532.99 477.02 L534.10 474.95 L535.21 472.91 L536.33 470.90 L537.44 468.91 L538.55 466.96 L539.66 465.04 L540.77 463.15 L541.89 461.30 L543.00 459.49 L544.11 457.73 L545.22 456.00 L546.34 454.32 L547.45 452.68 L548.56 451.09 L549.67 449.54 L550.79 448.04 L551.90 446.58 L553.01 445.17 L554.12 443.81 L555.24 442.50 L556.35 441.23 L557.46 440.00 L558.58 438.82 L559.69 437.69 L560.80 436.60 L561.91 435.55 L563.02 434.54 L564.14 433.58 L565.25 432.65 L566.36 431.76 L567.47 430.91 L568.59 430.10 L569.70 429.33 L570.81 428.58 L571.92 427.87 L573.04 427.20 L574.15 426.55 L575.26 425.94 L576.38 425.35 L577.49 424.79 L578.60 424.26 L579.71 423.75 L580.83 423.27 L581.94 422.81 L583.05 422.37 L584.16 421.96 L585.27 421.57 L586.39 421.19 L587.50 420.84 L588.61 420.50 L589.72 420.18 L590.84 419.87 L591.95 419.59 L593.06 419.31 L594.17 419.05 L595.29 418.81 L596.40 418.57 L597.51 418.35 L598.62 418.14 L599.74 417.94 L600.85 417.75 L601.96 417.58 L603.08 417.41 L604.19 417.25 L605.30 417.09 L606.41 416.95 L607.52 416.82 L608.64 416.69 L609.75 416.57 L610.86 416.45 L611.97 416.34 L613.09 416.24 L614.20 416.14 L615.31 416.05 L616.42 415.96 L617.54 415.88 L618.65 415.80 L619.76 415.73 L620.88 415.66 L621.99 415.59 L623.10 415.53 L624.21 415.47 L625.33 415.41 L626.44 415.36 L627.55 415.31 L628.66 415.26 L629.77 415.22 L630.89 415.17 L632.00 415.13 L633.11 415.10 L634.22 415.06 L635.34 415.03 L636.45 414.99 L637.56 414.96 L638.67 414.94 L639.79 414.91 L640.90 414.88" fill="none" stroke="#9460aa" stroke-width="1.3"/>
<path d="M418.40 561.31 L462.90 561.31 L507.40 561.31 L551.90 561.31 L596.40 561.31 L640.90 561.31" fill="none" stroke="#9460aa" stroke-width="1.3" stroke-dasharray="7.7 3.4"/>
<circle cx="418.40" cy="561.31" r="3.4" fill="none" stroke="#8c4ca6" stroke-width="1.2"/>
<circle cx="462.90" cy="561.31" r="3.4" fill="none" stroke="#8c4ca6" stroke-width="1.2"/>
<circle cx="507.40" cy="561.31" r="3.4" fill="none" stroke="#8c4ca6" stroke-width="1.2"/>
<circle cx="551.90" cy="561.31" r="3.4" fill="none" stroke="#8c4ca6" stroke-width="1.2"/>
<circle cx="596.40" cy="561.31" r="3.4" fill="none" stroke="#8c4ca6" stroke-width="1.2"/>
<circle cx="640.90" cy="561.31" r="3.4" fill="none" stroke="#8c4ca6" stroke-width="1.2"/>
<circle cx="418.40" cy="560.90" r="3.25" fill="#9c50b8" stroke="#8a429f" stroke-width="0.8"/>
<circle cx="440.65" cy="560.31" r="3.25" fill="#9c50b8" stroke="#8a429f" stroke-width="0.8"/>
<circle cx="462.90" cy="558.42" r="3.25" fill="#9c50b8" stroke="#8a429f" stroke-width="0.8"/>
<circle cx="485.15" cy="554.12" r="3.25" fill="#9c50b8" stroke="#8a429f" stroke-width="0.8"/>
<circle cx="507.40" cy="532.21" r="3.25" fill="#9c50b8" stroke="#8a429f" stroke-width="0.8"/>
<circle cx="529.65" cy="483.91" r="3.25" fill="#9c50b8" stroke="#8a429f" stroke-width="0.8"/>
<circle cx="551.90" cy="436.32" r="3.25" fill="#9c50b8" stroke="#8a429f" stroke-width="0.8"/>
<circle cx="574.15" cy="420.71" r="3.25" fill="#9c50b8" stroke="#8a429f" stroke-width="0.8"/>
<circle cx="596.40" cy="413.49" r="3.25" fill="#9c50b8" stroke="#8a429f" stroke-width="0.8"/>
<circle cx="618.65" cy="430.50" r="3.25" fill="#9c50b8" stroke="#8a429f" stroke-width="0.8"/>
<circle cx="640.90" cy="416.79" r="3.25" fill="#9c50b8" stroke="#8a429f" stroke-width="0.8"/>
<path d="M418.40 342.80V565.20H640.90" fill="none" stroke="#2b2b2b" stroke-width="1.6"/>
<line x1="411.60" y1="565.20" x2="418.40" y2="565.20" stroke="#2b2b2b" stroke-width="1.6"/>
<text x="398.92" y="571.20" font-family="Liberation Sans" font-size="15.6" fill="#2e2e2e" stroke="#fff" stroke-width="0.2">0</text>
<line x1="411.60" y1="491.07" x2="418.40" y2="491.07" stroke="#2b2b2b" stroke-width="1.6"/>
<text x="390.25" y="497.07" font-family="Liberation Sans" font-size="15.6" fill="#2e2e2e" stroke="#fff" stroke-width="0.2">2</text><text x="398.92" y="497.07" font-family="Liberation Sans" font-size="15.6" fill="#2e2e2e" stroke="#fff" stroke-width="0.2">0</text>
<line x1="411.60" y1="416.93" x2="418.40" y2="416.93" stroke="#2b2b2b" stroke-width="1.6"/>
<text x="390.25" y="422.93" font-family="Liberation Sans" font-size="15.6" fill="#2e2e2e" stroke="#fff" stroke-width="0.2">4</text><text x="398.92" y="422.93" font-family="Liberation Sans" font-size="15.6" fill="#2e2e2e" stroke="#fff" stroke-width="0.2">0</text>
<line x1="411.60" y1="342.80" x2="418.40" y2="342.80" stroke="#2b2b2b" stroke-width="1.6"/>
<text x="390.25" y="348.80" font-family="Liberation Sans" font-size="15.6" fill="#2e2e2e" stroke="#fff" stroke-width="0.2">6</text><text x="398.92" y="348.80" font-family="Liberation Sans" font-size="15.6" fill="#2e2e2e" stroke="#fff" stroke-width="0.2">0</text>
<line x1="418.40" y1="565.20" x2="418.40" y2="571.70" stroke="#2b2b2b" stroke-width="1.6"/>
<path d="M414.50 590.10V579.00M410.80 581.20L414.80 579.20" stroke="#2e2e2e" stroke-width="1.0" fill="none"/><text x="418.40" y="590.10" font-family="Liberation Sans" font-size="15.6" fill="#2e2e2e" stroke="#fff" stroke-width="0.2">0</text>
<text x="409.72" y="590.90" font-family="Liberation Sans" font-size="15.6" fill="#2e2e2e" stroke="#fff" stroke-width="0.2" text-anchor="end">&#8722;</text>
<line x1="462.90" y1="565.20" x2="462.90" y2="571.70" stroke="#2b2b2b" stroke-width="1.6"/>
<text x="458.56" y="590.10" font-family="Liberation Sans" font-size="15.6" fill="#2e2e2e" stroke="#fff" stroke-width="0.2">9</text>
<text x="458.56" y="590.90" font-family="Liberation Sans" font-size="15.6" fill="#2e2e2e" stroke="#fff" stroke-width="0.2" text-anchor="end">&#8722;</text>
<line x1="507.40" y1="565.20" x2="507.40" y2="571.70" stroke="#2b2b2b" stroke-width="1.6"/>
<text x="503.06" y="590.10" font-family="Liberation Sans" font-size="15.6" fill="#2e2e2e" stroke="#fff" stroke-width="0.2">8</text>
<text x="503.06" y="590.90" font-family="Liberation Sans" font-size="15.6" fill="#2e2e2e" stroke="#fff" stroke-width="0.2" text-anchor="end">&#8722;</text>
<line x1="551.90" y1="565.20" x2="551.90" y2="571.70" stroke="#2b2b2b" stroke-width="1.6"/>
<text x="547.56" y="590.10" font-family="Liberation Sans" font-size="15.6" fill="#2e2e2e" stroke="#fff" stroke-width="0.2">7</text>
<text x="547.56" y="590.90" font-family="Liberation Sans" font-size="15.6" fill="#2e2e2e" stroke="#fff" stroke-width="0.2" text-anchor="end">&#8722;</text>
<line x1="596.40" y1="565.20" x2="596.40" y2="571.70" stroke="#2b2b2b" stroke-width="1.6"/>
<text x="592.06" y="590.10" font-family="Liberation Sans" font-size="15.6" fill="#2e2e2e" stroke="#fff" stroke-width="0.2">6</text>
<text x="592.06" y="590.90" font-family="Liberation Sans" font-size="15.6" fill="#2e2e2e" stroke="#fff" stroke-width="0.2" text-anchor="end">&#8722;</text>
<line x1="640.90" y1="565.20" x2="640.90" y2="571.70" stroke="#2b2b2b" stroke-width="1.6"/>
<text x="636.56" y="590.10" font-family="Liberation Sans" font-size="15.6" fill="#2e2e2e" stroke="#fff" stroke-width="0.2">5</text>
<text x="636.56" y="590.90" font-family="Liberation Sans" font-size="15.6" fill="#2e2e2e" stroke="#fff" stroke-width="0.2" text-anchor="end">&#8722;</text>
<line x1="428.70" y1="361.80" x2="458.70" y2="361.80" stroke="#9460aa" stroke-width="1.3" stroke-dasharray="7.7 3.4"/>
<circle cx="445.30" cy="361.80" r="3.6" fill="none" stroke="#8c4ca6" stroke-width="1.2"/>
<line x1="430.90" y1="385.30" x2="459.30" y2="385.30" stroke="#9460aa" stroke-width="1.3"/>
<circle cx="445.30" cy="385.30" r="3.25" fill="#9c50b8" stroke="#8a429f" stroke-width="0.8"/>
<text transform="translate(466.90 367.60) scale(0.7800 1)" x="-0.71" y="0" font-family="Liberation Sans" font-weight="bold" font-size="17.2" letter-spacing="1.028" fill="#231f20" stroke="#231f20" stroke-width="0.85">Control</text>
<text transform="translate(466.90 390.60) scale(0.8600 1)" x="-1.15" y="0" font-family="Liberation Sans" font-weight="bold" font-size="17.2" letter-spacing="0.617" fill="#231f20" stroke="#231f20" stroke-width="0.85">M3R</text>
<text transform="translate(461.23 617.80) scale(0.8000 1)" x="-1.16" y="0" font-family="Liberation Sans" font-weight="bold" font-size="17.4" letter-spacing="-0.623" fill="#231f20" stroke="#231f20" stroke-width="0.85">Log</text>
<text transform="translate(491.03 617.80) scale(0.8200 1)" x="-0.98" y="0" font-family="Liberation Sans" font-weight="bold" font-size="17.4" letter-spacing="0.824" fill="#231f20" stroke="#231f20" stroke-width="0.85">[carbachol],</text>
<text transform="translate(584.73 617.80) scale(0.9247 1)" x="-1.16" y="0" font-family="Liberation Sans" font-weight="bold" font-size="17.4" letter-spacing="0.000" fill="#231f20" stroke="#231f20" stroke-width="0.85">M</text>
<text transform="translate(375.80 509.57) rotate(-90) scale(0.8000 1)" x="-1.18" y="0" font-family="Liberation Sans" font-weight="bold" font-size="17.6" letter-spacing="0.461" fill="#231f20" stroke="#231f20" stroke-width="0.85">Fold</text>
<text transform="translate(375.80 473.68) rotate(-90) scale(0.8200 1)" x="-1.18" y="0" font-family="Liberation Sans" font-weight="bold" font-size="17.6" letter-spacing="0.531" fill="#231f20" stroke="#231f20" stroke-width="0.85">Induction</text>
<text transform="translate(663.2 625.0) rotate(-90)" font-family="Liberation Sans" font-size="9.8" fill="#444" textLength="32.2" lengthAdjust="spacingAndGlyphs">8487MA</text>
</svg>
</body></html>
